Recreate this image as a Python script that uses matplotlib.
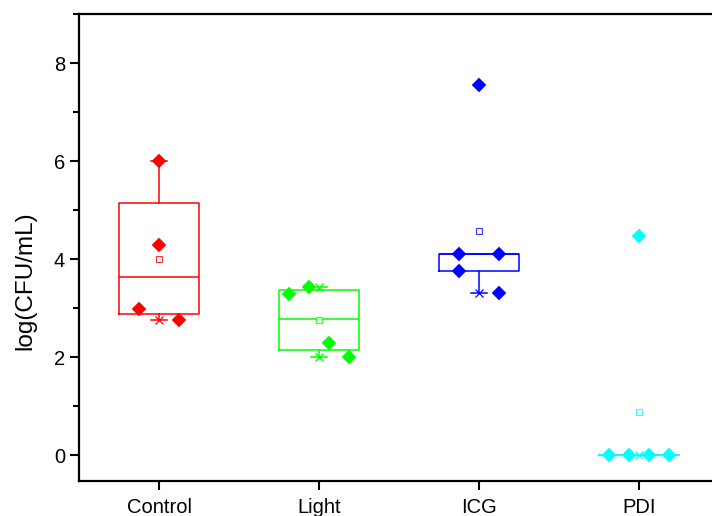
import numpy as np
import matplotlib
matplotlib.use("Agg")
import matplotlib.pyplot as plt
from matplotlib.ticker import MultipleLocator

plt.rcParams['font.family'] = ['Liberation Sans', 'DejaVu Sans']

# ---- data ----
categories = ["Control", "Light", "ICG", "PDI"]
control = [2.99, 6.0, 4.29, 2.76]
light = [3.29, 3.44, 2.29, 2.0]
icg = [4.11, 7.55, 4.11, 3.76, 3.32]
pdi = [0.0, 0.0, 4.48, 0.0, 0.0]
groups = [control, light, icg, pdi]

# horizontal placement of the individual points inside each box (in box units)
control_off = [-0.125, 0.0, 0.0, 0.125]
light_off = [-0.1875, -0.0625, 0.0625, 0.1875]
icg_off = [-0.125, 0.0, 0.125, -0.125, 0.125]
pdi_off = [-0.1875, -0.0625, 0.0, 0.0625, 0.1875]
offsets = [control_off, light_off, icg_off, pdi_off]

colors = ["#FF0000", "#00FF00", "#0000FF", "#00FFFF"]
ylabel = "log(CFU/mL)"

fig = plt.figure(figsize=(7.12, 5.16), dpi=100)
ax = fig.add_axes([79/712, 35/516, (719-79)/712, (481-14)/516])

for i, (vals, offs, c) in enumerate(zip(groups, offsets, colors)):
    pos = i + 1
    v = np.array(vals)
    o = np.array(offs)
    q1, med, q3 = np.percentile(v, [25, 50, 75], method='midpoint')
    iqr = q3 - q1
    lo = v[v >= q1 - 1.5 * iqr].min()
    hi = v[v <= q3 + 1.5 * iqr].max()
    st = dict(med=med, q1=q1, q3=q3, whislo=lo, whishi=hi, fliers=[], mean=v.mean())
    lw = 1.1
    ax.bxp([st], positions=[pos], widths=0.5, capwidths=0.1, showfliers=False,
           showmeans=False, patch_artist=False,
           boxprops=dict(color=c, lw=lw), whiskerprops=dict(color=c, lw=lw),
           capprops=dict(color=c, lw=lw), medianprops=dict(color=c, lw=lw),
           zorder=2)
    # min / max markers (hidden where a centred data point sits on them)
    for ext in (v.min(), v.max()):
        if not np.any((v == ext) & (o == 0)):
            ax.plot([pos], [ext], ls='none', marker='x', ms=6,
                    mew=0.9, color=c, zorder=3)
    # data points
    ax.plot(pos + o, v, ls='none', marker='D', ms=6.8,
            mfc=c, mec=c, mew=0.3, zorder=4)
    # mean
    ax.plot([pos], [v.mean()], ls='none', marker='s', ms=4, mfc='white',
            mec=c, mew=0.8, alpha=0.8, zorder=4)

ax.set_xlim(0.5, 4.5)
ax.set_ylim(-0.52, 9.0)
ax.set_xticks([1, 2, 3, 4])
ax.set_xticklabels(categories)
ax.yaxis.set_major_locator(MultipleLocator(2))
ax.yaxis.set_minor_locator(MultipleLocator(1))
ax.tick_params(axis='both', which='major', direction='out', length=6.5, width=1.5,
               labelsize=14.5, pad=3.5)
ax.tick_params(axis='x', which='major', pad=6)
ax.tick_params(axis='y', which='minor', direction='out', length=4.5, width=1.5)
ax.tick_params(axis='x', which='minor', bottom=False)
for s in ax.spines.values():
    s.set_linewidth(1.6)
ax.set_ylabel(ylabel, fontsize=17.5)
ax.yaxis.set_label_coords(-0.067, 0.43)

fig.savefig("out.png", dpi=100)
